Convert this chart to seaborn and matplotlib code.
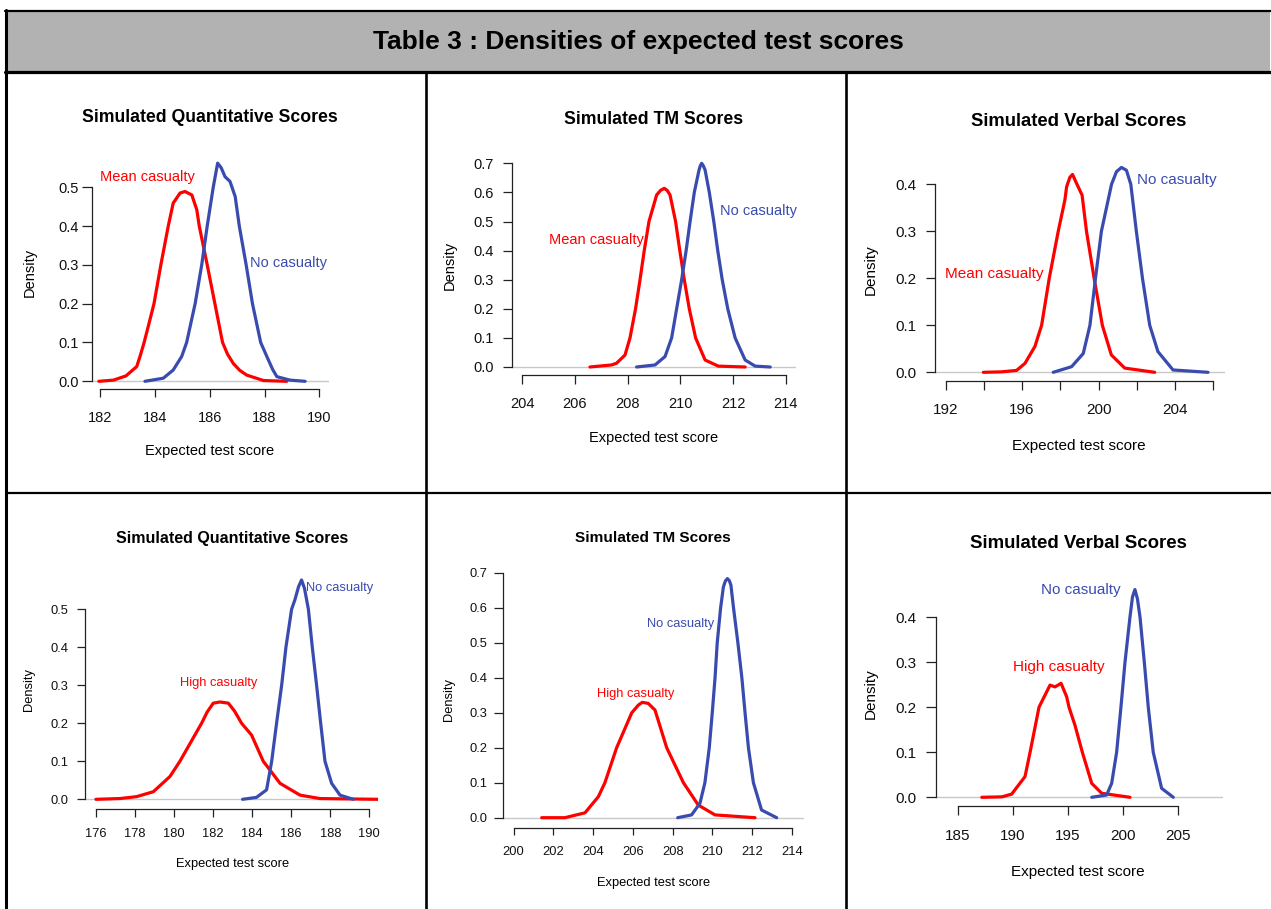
import matplotlib
matplotlib.use("Agg")
import matplotlib.pyplot as plt
import seaborn as sns
from matplotlib.lines import Line2D
from matplotlib.patches import Rectangle

sns.set_style("white")
plt.rcParams["font.family"] = ["Liberation Sans", "DejaVu Sans"]

W, H = 1271, 909
RED = "#ff0000"
BLUE = "#3a4bb0"

# --- data (density curves) ---
# Quantitative, mean casualty vs no casualty
q1_red_x = [181.96, 182.49, 182.95, 183.34, 183.46, 183.61, 183.82, 183.97, 184.22, 184.49, 184.67, 184.92,
            185.10, 185.35, 185.53, 185.62, 185.91, 186.19, 186.47, 186.65, 186.86, 187.10, 187.35, 187.96, 188.81]
q1_red_y = [0.0, 0.003, 0.014, 0.038, 0.064, 0.1, 0.158, 0.2, 0.3, 0.4, 0.459, 0.485,
            0.489, 0.48, 0.442, 0.4, 0.3, 0.2, 0.1, 0.07, 0.046, 0.028, 0.016, 0.002, 0.0]
q1_blue_x = [183.64, 184.31, 184.67, 184.98, 185.16, 185.47, 185.71, 185.91, 186.13, 186.29, 186.42, 186.56,
             186.74, 186.93, 187.08, 187.33, 187.56, 187.86, 188.14, 188.30, 188.45, 188.93, 189.48]
q1_blue_y = [0.0, 0.008, 0.029, 0.064, 0.1, 0.2, 0.3, 0.4, 0.5, 0.562, 0.55, 0.527,
             0.515, 0.476, 0.4, 0.3, 0.2, 0.1, 0.055, 0.03, 0.012, 0.003, 0.0]

# TM, mean casualty vs no casualty
t1_red_x = [206.57, 207.39, 207.58, 207.90, 208.09, 208.30, 208.47, 208.63, 208.81, 209.10, 209.25, 209.39,
            209.50, 209.61, 209.82, 209.98, 210.15, 210.34, 210.58, 210.94, 211.44, 212.46]
t1_red_y = [0.0, 0.007, 0.013, 0.041, 0.1, 0.2, 0.3, 0.4, 0.5, 0.591, 0.607, 0.614,
            0.607, 0.591, 0.5, 0.4, 0.3, 0.2, 0.1, 0.024, 0.003, 0.0]
t1_blue_x = [208.34, 209.04, 209.42, 209.67, 209.86, 210.05, 210.22, 210.37, 210.53, 210.71, 210.76, 210.81,
             210.87, 210.94, 211.10, 211.27, 211.42, 211.59, 211.80, 212.08, 212.46, 212.84, 213.41]
t1_blue_y = [0.0, 0.007, 0.036, 0.1, 0.2, 0.3, 0.4, 0.5, 0.6, 0.677, 0.692, 0.70,
             0.692, 0.677, 0.6, 0.5, 0.4, 0.3, 0.2, 0.1, 0.024, 0.003, 0.0]

# Verbal, mean casualty vs no casualty
v1_red_x = [193.97, 194.93, 195.71, 196.15, 196.67, 197.02, 197.42, 197.89, 198.24, 198.33, 198.50, 198.64,
            198.85, 199.14, 199.37, 199.77, 200.20, 200.67, 201.37, 202.94]
v1_red_y = [0.0, 0.001, 0.004, 0.019, 0.055, 0.1, 0.2, 0.3, 0.367, 0.395, 0.415, 0.421,
            0.402, 0.377, 0.3, 0.2, 0.1, 0.037, 0.009, 0.0]
v1_blue_x = [197.63, 198.59, 199.20, 199.55, 199.84, 200.15, 200.68, 200.94, 201.20, 201.46, 201.69,
             201.98, 202.30, 202.68, 203.11, 203.90, 205.73]
v1_blue_y = [0.0, 0.012, 0.040, 0.1, 0.2, 0.3, 0.4, 0.427, 0.436, 0.43, 0.4,
             0.3, 0.2, 0.1, 0.044, 0.005, 0.0]

# Quantitative, high casualty vs no casualty
q2_red_x = [176.0, 177.23, 178.08, 178.94, 179.79, 180.30, 181.41, 181.70, 182.01, 182.35, 182.78, 183.10,
            183.46, 183.97, 184.57, 185.43, 186.45, 187.47, 190.46]
q2_red_y = [0.0, 0.002, 0.007, 0.020, 0.06, 0.1, 0.2, 0.23, 0.253, 0.256, 0.253, 0.232,
            0.2, 0.169, 0.1, 0.042, 0.011, 0.002, 0.0]
q2_blue_x = [183.51, 184.22, 184.74, 185.0, 185.25, 185.51, 185.73, 186.02, 186.19, 186.38, 186.53, 186.68,
             186.88, 187.08, 187.30, 187.51, 187.73, 188.07, 188.50, 189.18]
q2_blue_y = [0.0, 0.005, 0.025, 0.1, 0.2, 0.3, 0.4, 0.5, 0.525, 0.56, 0.577, 0.555,
             0.5, 0.4, 0.3, 0.2, 0.1, 0.042, 0.011, 0.0]

# TM, high casualty vs no casualty
t2_red_x = [201.41, 202.58, 203.59, 204.26, 204.59, 205.18, 205.94, 206.27, 206.47, 206.77, 207.11,
            207.70, 208.54, 209.29, 210.13, 212.14]
t2_red_y = [0.0, 0.0, 0.014, 0.06, 0.1, 0.2, 0.3, 0.322, 0.33, 0.327, 0.308,
            0.2, 0.1, 0.036, 0.008, 0.0]
t2_blue_x = [208.25, 208.95, 209.37, 209.62, 209.84, 209.99, 210.13, 210.24, 210.41, 210.55, 210.65, 210.75,
             210.85, 210.93, 211.06, 211.28, 211.48, 211.64, 211.81, 212.06, 212.47, 213.23]
t2_blue_y = [0.0, 0.008, 0.041, 0.1, 0.2, 0.3, 0.4, 0.5, 0.6, 0.66, 0.677, 0.684,
             0.678, 0.665, 0.6, 0.5, 0.4, 0.3, 0.2, 0.1, 0.022, 0.0]

# Verbal, high casualty vs no casualty
v2_red_x = [187.18, 189.0, 189.89, 191.10, 191.56, 192.37, 192.92, 193.37, 193.82, 194.37, 194.88,
            195.09, 195.63, 196.30, 197.15, 198.05, 200.62]
v2_red_y = [0.0, 0.001, 0.007, 0.046, 0.1, 0.2, 0.227, 0.249, 0.245, 0.253, 0.223,
            0.2, 0.16, 0.1, 0.031, 0.009, 0.0]
v2_blue_x = [197.15, 198.50, 198.96, 199.41, 199.80, 200.17, 200.62, 200.85, 201.07, 201.30, 201.53, 201.92,
             202.28, 202.73, 203.49, 204.55]
v2_blue_y = [0.0, 0.005, 0.031, 0.1, 0.2, 0.3, 0.4, 0.445, 0.461, 0.44, 0.4, 0.3,
             0.2, 0.1, 0.02, 0.0]

# ticks
quant1_xticks = [182, 184, 186, 188, 190]
tm_xticks = [204, 206, 208, 210, 212, 214]
verb1_xticks = [192, 194, 196, 198, 200, 202, 204, 206]
verb1_xlabels = ["192", "", "196", "", "200", "", "204", ""]
quant2_xticks = [176, 178, 180, 182, 184, 186, 188, 190]
tm2_xticks = [200, 202, 204, 206, 208, 210, 212, 214]
verb2_xticks = [185, 190, 195, 200, 205]
yt_05 = [0.0, 0.1, 0.2, 0.3, 0.4, 0.5]
yt_07 = [0.0, 0.1, 0.2, 0.3, 0.4, 0.5, 0.6, 0.7]
yt_04 = [0.0, 0.1, 0.2, 0.3, 0.4]

# annotation texts (x, y in data units)
quant1_notes = [("Mean casualty", 182.0, 0.526, RED, "left"), ("No casualty", 187.47, 0.306, BLUE, "left")]
tm1_notes = [("Mean casualty", 208.60, 0.436, RED, "right"), ("No casualty", 211.52, 0.537, BLUE, "left")]
verb1_notes = [("Mean casualty", 191.96, 0.209, RED, "left"), ("No casualty", 201.99, 0.409, BLUE, "left")]
quant2_notes = [("High casualty", 182.28, 0.307, RED, "center"), ("No casualty", 186.76, 0.556, BLUE, "left")]
tm2_notes = [("High casualty", 206.14, 0.354, RED, "center"), ("No casualty", 208.38, 0.553, BLUE, "center")]
verb2_notes = [("High casualty", 194.21, 0.29, RED, "center"), ("No casualty", 196.18, 0.46, BLUE, "center")]

# --- layout (pixels) ---
panels = [
    dict(title="Simulated Quantitative Scores", red=(q1_red_x, q1_red_y), blue=(q1_blue_x, q1_blue_y),
         box=(92, 329, 155, 389.3), xlim=(181.71, 190.35), ylim=(-0.0206, 0.583),
         xticks=quant1_xticks, xlabels=None, yticks=yt_05, notes=quant1_notes,
         title_xy=(210, 118), ylab_xy=(30, 272), xlab_xy=(210, 451),
         fs=10.5, tfs=12.7, xtl=8, ytl=10, xpad=14, ypad=3),
    dict(title="Simulated TM Scores", red=(t1_red_x, t1_red_y), blue=(t1_blue_x, t1_blue_y),
         box=(511.7, 796, 155.3, 375), xlim=(203.60, 214.39), ylim=(-0.0275, 0.7275),
         xticks=tm_xticks, xlabels=None, yticks=yt_07, notes=tm1_notes,
         title_xy=(654, 120), ylab_xy=(450, 265), xlab_xy=(654, 437.7),
         fs=10.5, tfs=12.7, xtl=9, ytl=9.3, xpad=13.3, ypad=9),
    dict(title="Simulated Verbal Scores", red=(v1_red_x, v1_red_y), blue=(v1_blue_x, v1_blue_y),
         box=(935, 1225, 158.5, 381), xlim=(191.44, 206.62), ylim=(-0.0185, 0.455),
         xticks=verb1_xticks, xlabels=verb1_xlabels, yticks=yt_04, notes=verb1_notes,
         title_xy=(1079, 121.7), ylab_xy=(871, 270), xlab_xy=(1079, 445.7),
         fs=11, tfs=13.3, xtl=9, ytl=9, xpad=13.3, ypad=10),
    dict(title="Simulated Quantitative Scores", red=(q2_red_x, q2_red_y), blue=(q2_blue_x, q2_blue_y),
         box=(85, 378.3, 570.3, 809), xlim=(175.44, 190.46), ylim=(-0.0255, 0.6025),
         xticks=quant2_xticks, xlabels=None, yticks=yt_05, notes=quant2_notes,
         title_xy=(232, 539), ylab_xy=(29.3, 689.3), xlab_xy=(232.3, 864),
         fs=9.3, tfs=11.5, xtl=7.7, ytl=8.3, xpad=11, ypad=8),
    dict(title="Simulated TM Scores", red=(t2_red_x, t2_red_y), blue=(t2_blue_x, t2_blue_y),
         box=(503.3, 804.3, 563, 827.7), xlim=(199.48, 214.62), ylim=(-0.0286, 0.7286),
         xticks=tm2_xticks, xlabels=None, yticks=yt_07, notes=tm2_notes,
         title_xy=(652.7, 537.7), ylab_xy=(449, 699.3), xlab_xy=(653.3, 882.7),
         fs=9.3, tfs=11.1, xtl=7.3, ytl=9, xpad=11.2, ypad=7),
    dict(title="Simulated Verbal Scores", red=(v2_red_x, v2_red_y), blue=(v2_blue_x, v2_blue_y),
         box=(935.7, 1222.7, 581, 806), xlim=(183.0, 209.03), ylim=(-0.0193, 0.48),
         xticks=verb2_xticks, xlabels=None, yticks=yt_04, notes=verb2_notes,
         title_xy=(1078, 543.3), ylab_xy=(871, 694), xlab_xy=(1078.3, 871.7),
         fs=11, tfs=13.4, xtl=9, ytl=9.7, xpad=14.4, ypad=10),
]


def fx(px):
    return px / W


def fy(py):
    return 1 - py / H


PT = 0.72  # points per pixel at dpi 100

fig = plt.figure(figsize=(W / 100, H / 100), dpi=100)
fig.patch.set_facecolor("white")

# header band and table rules
fig.add_artist(Rectangle((fx(5), fy(72)), fx(1270) - fx(5), fy(10) - fy(72),
                         transform=fig.transFigure, facecolor="#b1b2b1", edgecolor="none"))
fig.add_artist(Line2D([fx(5), fx(1271)], [fy(10.5), fy(10.5)], color="black", lw=1.6))
fig.add_artist(Line2D([fx(5), fx(1271)], [fy(71.5), fy(71.5)], color="black", lw=2.3))
fig.add_artist(Line2D([fx(6), fx(6)], [fy(9.5), fy(909)], color="black", lw=2.2))
fig.add_artist(Line2D([fx(426), fx(426)], [fy(72), fy(909)], color="black", lw=1.9))
fig.add_artist(Line2D([fx(846), fx(846)], [fy(72), fy(909)], color="black", lw=1.9))
fig.add_artist(Line2D([fx(6), fx(1271)], [fy(493), fy(493)], color="black", lw=1.6))
fig.text(fx(638), fy(42), "Table 3 : Densities of expected test scores",
         ha="center", va="center", fontsize=19, fontweight="bold", color="black")

for p in panels:
    l, r, t, b = p["box"]
    ax = fig.add_axes([fx(l), fy(b), fx(r) - fx(l), fy(t) - fy(b)])
    ax.patch.set_alpha(0)
    ax.axhline(0, color="#c8c8c8", lw=1.0, zorder=1)
    for (xs, ys), col in ((p["red"], RED), (p["blue"], BLUE)):
        sns.lineplot(x=xs, y=ys, color=col, lw=2.3, estimator=None, ax=ax, zorder=3,
                     solid_joinstyle="round", solid_capstyle="round")
    ax.set_xlim(*p["xlim"])
    ax.set_ylim(*p["ylim"])

    for side in ("top", "right"):
        ax.spines[side].set_visible(False)
    for side in ("left", "bottom"):
        ax.spines[side].set_color("#222222")
        ax.spines[side].set_linewidth(0.9)
    ax.spines["bottom"].set_bounds(p["xticks"][0], p["xticks"][-1])
    ax.spines["left"].set_bounds(p["yticks"][0], p["yticks"][-1])

    ax.set_xticks(p["xticks"])
    if p["xlabels"] is not None:
        ax.set_xticklabels(p["xlabels"])
    else:
        ax.set_xticklabels([str(v) for v in p["xticks"]])
    ax.set_yticks(p["yticks"])
    ax.set_yticklabels([f"{v:.1f}" for v in p["yticks"]])
    ax.tick_params(axis="x", direction="out", length=p["xtl"] * PT, width=0.9, color="#222222",
                   pad=p["xpad"] * PT, labelsize=p["fs"], labelcolor="#111111", bottom=True)
    ax.tick_params(axis="y", direction="out", length=p["ytl"] * PT, width=0.9, color="#222222",
                   pad=p["ypad"] * PT, labelsize=p["fs"], labelcolor="#111111", left=True)
    ax.set_xlabel("")
    ax.set_ylabel("")
    ax.grid(False)

    for txt, x, y, col, ha in p["notes"]:
        ax.text(x, y, txt, color=col, fontsize=p["fs"], ha=ha, va="center", zorder=4)

    fig.text(fx(p["title_xy"][0]), fy(p["title_xy"][1]), p["title"], ha="center", va="center",
             fontsize=p["tfs"], fontweight="bold", color="black")
    fig.text(fx(p["ylab_xy"][0]), fy(p["ylab_xy"][1]), "Density", rotation=90,
             ha="center", va="center", fontsize=p["fs"], color="black")
    fig.text(fx(p["xlab_xy"][0]), fy(p["xlab_xy"][1]), "Expected test score",
             ha="center", va="center", fontsize=p["fs"], color="black")

fig.savefig("out.png", dpi=100, facecolor="white")
